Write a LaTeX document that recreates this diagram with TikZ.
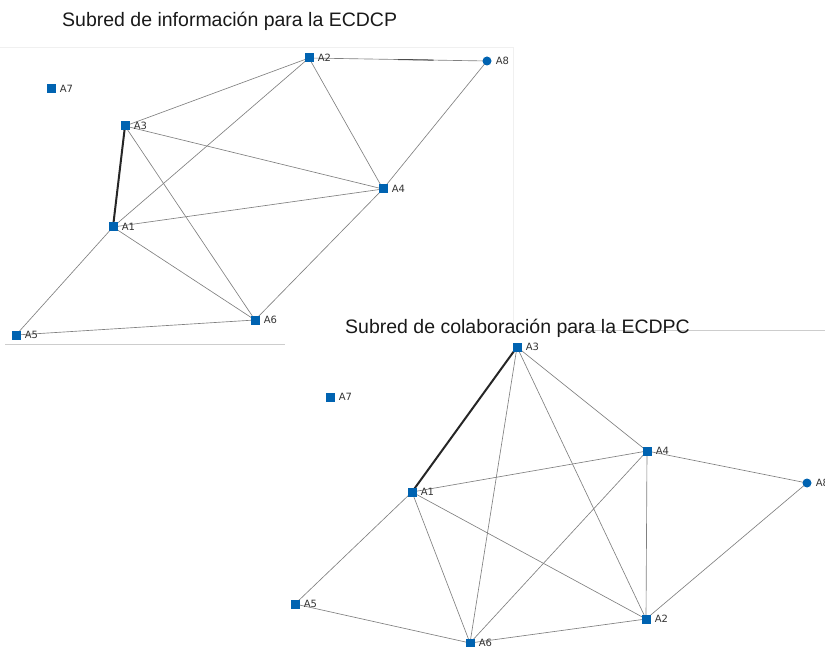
\documentclass[tikz,border=0pt]{standalone}
\usepackage{fontspec}
\setmainfont{Liberation Sans}
\newfontfamily\lblfont{DejaVu Sans}
\usetikzlibrary{backgrounds,calc}
\definecolor{nodeblue}{RGB}{0,99,177}
\definecolor{edgegray}{RGB}{128,128,128}
\definecolor{framegray}{RGB}{205,205,205}
\definecolor{lblgray}{RGB}{51,51,51}
\tikzset{
  x=1pt, y=-1pt,
  actor/.style={rectangle, fill=nodeblue, minimum size=9pt, inner sep=0pt,
    label={[lbl, label distance=3.5pt]east:#1}},
  actorc/.style={circle, fill=nodeblue, minimum size=9pt, inner sep=0pt,
    label={[lbl, label distance=3.5pt]east:#1}},
  lbl/.style={font=\lblfont\fontsize{10}{12}\selectfont, text=lblgray, inner sep=0.5pt},
  tie/.style={draw=edgegray, line width=0.65pt},
  strongtie/.style={draw=black!85, line width=2pt},
  frame/.style={draw=framegray, line width=0.8pt},
  faintframe/.style={draw=black!6, line width=0.6pt},
  heading/.style={font=\fontsize{19.5}{22}\selectfont, anchor=base west, inner sep=0pt, text=black!90}
}
\begin{document}
\begin{tikzpicture}
\useasboundingbox (0,0) rectangle (825,647);

% headings
\node[heading] (h1) at (62,27) {Subred de informaci\'on para la ECDCP};
\node[heading] (h2) at (345,333) {Subred de colaboraci\'on para la ECDPC};

% information subnetwork
\node[actor=A2]  (a2) at (309,58) {};
\node[actorc=A8] (a8) at (487,61) {};
\node[actor=A7]  (a7) at (51,89) {};
\node[actor=A3]  (a3) at (125,126) {};
\node[actor=A4]  (a4) at (383,189) {};
\node[actor=A1]  (a1) at (113,227) {};
\node[actor=A6]  (a6) at (255,320) {};
\node[actor=A5]  (a5) at (16,335) {};

% collaboration subnetwork
\node[actor=A3]  (b3) at (517,347) {};
\node[actor=A7]  (b7) at (330,397) {};
\node[actor=A4]  (b4) at (647,451) {};
\node[actorc=A8] (b8) at (807,483) {};
\node[actor=A1]  (b1) at (412,492) {};
\node[actor=A5]  (b5) at (295,604) {};
\node[actor=A2]  (b2) at (646,619) {};
\node[actor=A6]  (b6) at (470,643) {};

\begin{scope}[on background layer]
  % panel borders
  \draw[faintframe] (0,47) -- (513,47) -- (513,330);
  \draw[frame] (5,344) -- (285,344);
  \draw[frame] (560,330) -- (825,330);

  % information ties
  \draw[tie] (a2.center) -- (a8.center);
  \draw[draw=black!70, line width=1pt] ($(a2.center)!0.5!(a8.center)$) -- ($(a2.center)!0.7!(a8.center)$);
  \draw[tie] (a2.center) -- (a3.center);
  \draw[tie] (a2.center) -- (a1.center);
  \draw[tie] (a2.center) -- (a4.center);
  \draw[tie] (a8.center) -- (a4.center);
  \draw[tie] (a3.center) -- (a4.center);
  \draw[tie] (a3.center) -- (a6.center);
  \draw[tie] (a1.center) -- (a4.center);
  \draw[tie] (a1.center) -- (a6.center);
  \draw[tie] (a1.center) -- (a5.center);
  \draw[tie] (a4.center) -- (a6.center);
  \draw[tie] (a5.center) -- (a6.center);
  \draw[strongtie] (a3.center) -- (a1.center);

  % collaboration ties
  \draw[tie] (b3.center) -- (b6.center);
  \draw[tie] (b3.center) -- (b2.center);
  \draw[tie] (b3.center) -- (b4.center);
  \draw[tie] (b4.center) -- (b1.center);
  \draw[tie] (b4.center) -- (b8.center);
  \draw[tie] (b4.center) -- (b6.center);
  \draw[tie] (b4.center) -- (b2.center);
  \draw[tie] (b1.center) -- (b5.center);
  \draw[tie] (b1.center) -- (b6.center);
  \draw[tie] (b1.center) -- (b2.center);
  \draw[tie] (b5.center) -- (b6.center);
  \draw[tie] (b6.center) -- (b2.center);
  \draw[tie] (b2.center) -- (b8.center);
  \draw[strongtie] (b3.center) -- (b1.center);
\end{scope}
\end{tikzpicture}
\end{document}
